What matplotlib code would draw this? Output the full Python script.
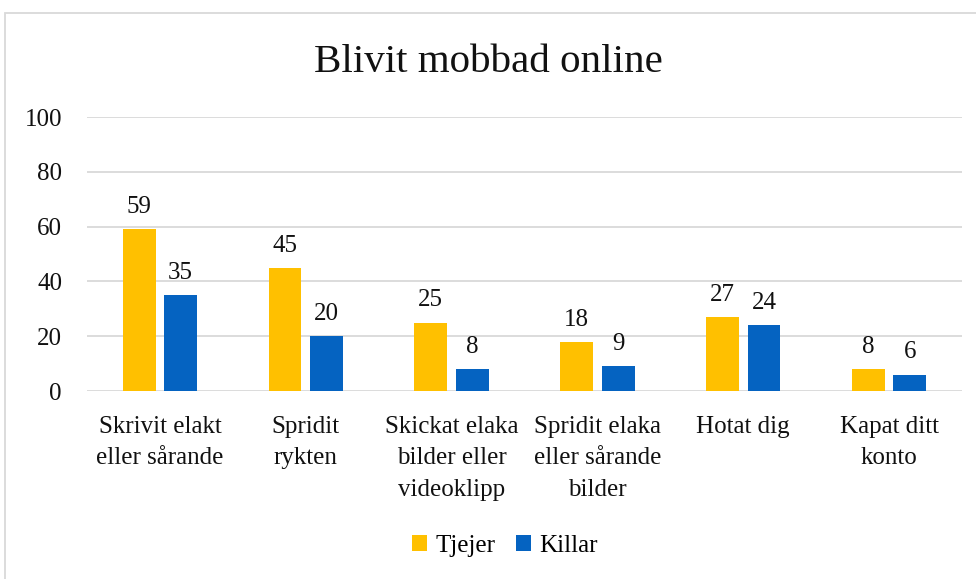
import matplotlib
matplotlib.use("Agg")
import matplotlib.pyplot as plt
import numpy as np
from matplotlib.patches import Rectangle

categories = ["Skrivit elakt\neller sårande", "Spridit\nrykten", "Skickat elaka\nbilder eller\nvideoklipp",
              "Spridit elaka\neller sårande\nbilder", "Hotat dig", "Kapat ditt\nkonto"]
tjejer = [59, 45, 25, 18, 27, 8]
killar = [35, 20, 8, 9, 24, 6]
yticks = [0, 20, 40, 60, 80, 100]

plt.rcParams['font.family'] = ['Liberation Serif', 'DejaVu Serif']

fig = plt.figure(figsize=(9.76, 5.79), dpi=100)
W, H = 976, 579
ax = fig.add_axes([87/W, 1-391/H, (962-87)/W, (391-117)/H])

FS = 18
x = np.arange(len(categories))
bw = 0.225
gap = 0.03
c1, c2 = "#FFC000", "#0563C1"
b1 = ax.bar(x - bw/2 - gap, tjejer, bw, color=c1, label="Tjejer", zorder=3)
b2 = ax.bar(x + bw/2 + gap, killar, bw, color=c2, label="Killar", zorder=3)
for bars, vals in ((b1, tjejer), (b2, killar)):
    for r, v in zip(bars, vals):
        ax.annotate(str(v), (r.get_x() + r.get_width()/2, v), xytext=(0, 8),
                    textcoords="offset points", ha="center", va="bottom", fontsize=FS, color="#111111")

ax.set_xlim(-0.5, len(categories) - 0.5)
ax.set_ylim(0, 100)
ax.set_yticks(yticks)
ax.set_yticklabels([str(t) for t in yticks], fontsize=FS)
ax.set_xticks(x)
ax.set_xticklabels(categories, fontsize=FS, linespacing=1.55)
ax.tick_params(axis='both', length=0, colors="#111111")
ax.tick_params(axis='y', pad=18)
ax.tick_params(axis='x', pad=18)
ax.grid(axis='y', color="#d9d9d9", linewidth=1.3, zorder=0)
for s in ax.spines.values():
    s.set_visible(False)

fig.text(0.5, 1-63/H, "Blivit mobbad online", ha="center", va="center", fontsize=29.5, color="#111111")

leg = fig.legend(handles=[b1, b2], labels=["Tjejer", "Killar"], loc="center", bbox_to_anchor=(505/W, 1-546/H),
                 ncol=2, frameon=False, fontsize=FS, handlelength=0.6, handleheight=0.6,
                 handletextpad=0.35, columnspacing=0.8)

fig.patches.append(Rectangle((5/W, -0.1), 1.1, 1 - 13/H + 0.1, transform=fig.transFigure,
                             fill=False, edgecolor="#d9d9d9", linewidth=1.3))

fig.savefig("out.png", dpi=100)
